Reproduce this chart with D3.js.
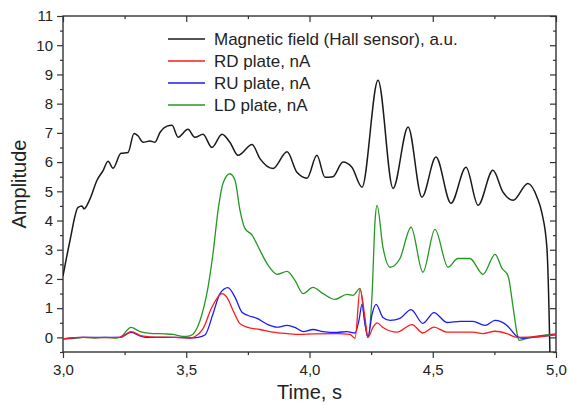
<!DOCTYPE html>
<html><head><meta charset="utf-8">
<script src="https://cdn.jsdelivr.net/npm/d3@7"></script>
<style>body{margin:0;background:#fff}svg{display:block}text{font-family:"Liberation Sans",Arial,sans-serif;fill:#222}</style>
</head><body><svg id="c" width="568" height="405"></svg>
<script>
const seriesNames = ["Magnetic field (Hall sensor), a.u.", "RD plate, nA", "RU plate, nA", "LD plate, nA"];
const seriesColors = ["#1a1a1a", "#ff1a1a", "#1a1aff", "#229922"];

const hallT = [3.000,3.028,3.061,3.077,3.085,3.110,3.138,3.162,3.183,3.203,3.235,3.264,3.288,3.304,3.325,3.353,3.373,3.394,3.422,3.442,3.467,3.507,3.535,3.568,3.604,3.645,3.677,3.710,3.767,3.799,3.852,3.909,3.949,3.990,4.030,4.063,4.095,4.136,4.172,4.213,4.278,4.339,4.400,4.456,4.513,4.574,4.635,4.684,4.744,4.785,4.826,4.886,4.923,4.943,4.963,4.972,4.976];
const hallV = [2.1,3.3,4.45,4.5,4.4,4.75,5.38,5.7,6.03,5.79,6.3,6.33,6.98,6.9,6.68,6.72,6.68,7.02,7.23,7.26,6.85,7.12,6.85,6.95,6.5,6.95,6.68,6.23,6.6,6.12,5.78,6.35,5.65,5.45,6.23,5.48,5.5,6.0,5.82,5.14,8.8,5.1,7.2,4.8,6.17,4.59,5.82,4.52,5.72,4.97,4.69,5.27,4.8,4.25,3.08,0.8,-0.8];

const rdT = [3.000,3.081,3.170,3.231,3.276,3.320,3.353,3.454,3.515,3.536,3.568,3.604,3.645,3.665,3.690,3.718,3.746,3.799,3.852,3.909,3.961,4.014,4.112,4.164,4.185,4.205,4.225,4.237,4.258,4.274,4.298,4.355,4.416,4.460,4.505,4.558,4.663,4.704,4.753,4.801,4.842,4.935,5.000];
const rdV = [-0.05,0.0,-0.01,0.0,0.2,0.05,0.02,0.0,-0.02,0.03,0.3,1.03,1.5,1.37,0.92,0.47,0.35,0.27,0.18,0.13,0.1,0.12,0.13,0.1,-0.03,1.65,0.68,0.0,0.35,0.5,0.34,0.18,0.44,0.15,0.35,0.18,0.18,0.13,0.21,0.13,0.0,0.03,0.1];

const ruT = [3.000,3.081,3.170,3.231,3.276,3.320,3.353,3.454,3.515,3.548,3.576,3.609,3.637,3.669,3.698,3.726,3.751,3.787,3.828,3.868,3.909,3.941,3.974,4.014,4.055,4.112,4.152,4.185,4.201,4.213,4.225,4.237,4.254,4.270,4.298,4.327,4.367,4.412,4.460,4.505,4.558,4.611,4.663,4.712,4.753,4.801,4.842,4.866,4.935,5.000];
const ruV = [-0.05,0.0,0.0,0.0,0.17,0.03,0.0,0.0,-0.02,0.0,0.08,0.82,1.5,1.7,1.37,0.86,0.75,0.65,0.45,0.35,0.41,0.34,0.2,0.27,0.2,0.17,0.2,0.15,0.6,1.13,0.48,0.0,0.8,1.13,0.68,0.58,0.65,0.95,0.48,0.85,0.51,0.55,0.55,0.41,0.58,0.41,0.03,-0.03,0.03,0.1];

const ldT = [3.000,3.049,3.081,3.130,3.170,3.211,3.231,3.276,3.312,3.353,3.414,3.446,3.487,3.515,3.556,3.588,3.609,3.629,3.649,3.677,3.698,3.718,3.738,3.767,3.799,3.832,3.868,3.909,3.941,3.974,4.014,4.055,4.103,4.152,4.176,4.205,4.225,4.237,4.254,4.266,4.274,4.298,4.327,4.367,4.412,4.460,4.509,4.562,4.602,4.651,4.704,4.753,4.781,4.805,4.826,4.842,4.850,4.895,5.000];
const ldV = [-0.05,-0.03,0.0,-0.02,0.0,-0.02,0.0,0.34,0.2,0.14,0.12,0.1,0.03,0.05,0.58,1.7,2.9,4.35,5.27,5.6,5.37,4.35,3.73,3.5,2.98,2.47,2.16,2.26,1.95,1.5,1.71,1.5,1.3,1.47,1.44,1.68,0.48,0.02,1.5,4.0,4.52,3.08,2.4,2.7,3.77,2.23,3.7,2.4,2.7,2.7,2.16,2.84,2.36,2.12,1.03,0.14,-0.1,0.0,0.12];

const xMajor = [3.0, 3.5, 4.0, 4.5, 5.0];
const xMinor = [3.25, 3.75, 4.25, 4.75];
const yMajor = [0,1,2,3,4,5,6,7,8,9,10,11];
const yMinor = [-0.5,0.5,1.5,2.5,3.5,4.5,5.5,6.5,7.5,8.5,9.5,10.5];

const svg = d3.select("#c");
const L = 63, R = 556, T = 16, B = 352;
const x = d3.scaleLinear().domain([3, 5]).range([L, R]);
const y = d3.scaleLinear().domain([-0.5, 11]).range([B, T]);

svg.append("defs").append("clipPath").attr("id","clip")
  .append("rect").attr("x",L).attr("y",T).attr("width",R-L).attr("height",B-T);

const fmt = d => d3.format(".1f")(d).replace(".", ",");
const axColor = "#333";
function styleAxis(g){ g.select(".domain").remove(); g.selectAll("line").attr("stroke",axColor).attr("stroke-width",1.2); }

// bottom
svg.append("g").attr("transform",`translate(0,${B})`)
  .call(d3.axisBottom(x).tickValues(xMajor).tickSize(6).tickPadding(6).tickFormat(fmt))
  .call(styleAxis).call(g=>g.selectAll("text").attr("font-size",15).attr("fill","#222").attr("font-family","Liberation Sans, Arial"));
svg.append("g").attr("transform",`translate(0,${B})`)
  .call(d3.axisBottom(x).tickValues(xMinor).tickSize(3).tickFormat("")).call(styleAxis);
// top
svg.append("g").attr("transform",`translate(0,${T})`)
  .call(d3.axisTop(x).tickValues(xMajor).tickSize(-6).tickFormat("")).call(styleAxis);
svg.append("g").attr("transform",`translate(0,${T})`)
  .call(d3.axisTop(x).tickValues(xMinor).tickSize(-3).tickFormat("")).call(styleAxis);
// left
svg.append("g").attr("transform",`translate(${L},0)`)
  .call(d3.axisLeft(y).tickValues(yMajor).tickSize(6).tickPadding(4).tickFormat(d=>d))
  .call(styleAxis).call(g=>g.selectAll("text").attr("font-size",15).attr("fill","#222").attr("font-family","Liberation Sans, Arial"));
svg.append("g").attr("transform",`translate(${L},0)`)
  .call(d3.axisLeft(y).tickValues(yMinor).tickSize(3).tickFormat("")).call(styleAxis);
// right
svg.append("g").attr("transform",`translate(${R},0)`)
  .call(d3.axisRight(y).tickValues(yMajor).tickSize(-6).tickFormat("")).call(styleAxis);
svg.append("g").attr("transform",`translate(${R},0)`)
  .call(d3.axisRight(y).tickValues(yMinor).tickSize(-3).tickFormat("")).call(styleAxis);

// frame
svg.append("rect").attr("x",L).attr("y",T).attr("width",R-L).attr("height",B-T)
  .attr("fill","none").attr("stroke",axColor).attr("stroke-width",1.4);

const line = d3.line().x(d=>x(d[0])).y(d=>y(d[1])).curve(d3.curveMonotoneX);
const zip = (a,b) => a.map((t,i)=>[t,b[i]]);
const series = [zip(hallT,hallV), zip(rdT,rdV), zip(ruT,ruV), zip(ldT,ldV)];
const drawOrder = [0,3,2,1];
const plot = svg.append("g").attr("clip-path","url(#clip)");
drawOrder.forEach(i=>{
  plot.append("path").datum(series[i]).attr("d",line).attr("fill","none")
    .attr("stroke",seriesColors[i]).attr("stroke-width", i===0?1.5:1.3).attr("stroke-linejoin","round");
});

// legend
const lg = svg.append("g");
seriesNames.forEach((n,i)=>{
  const yy = 39 + i*22;
  lg.append("line").attr("x1",168).attr("x2",205).attr("y1",yy).attr("y2",yy)
    .attr("stroke",seriesColors[i]).attr("stroke-width",1.5);
  lg.append("text").attr("x",214).attr("y",yy).attr("dy","0.35em").attr("font-size",17).text(n);
});

// axis titles
svg.append("text").attr("x",(L+R)/2).attr("y",399).attr("text-anchor","middle").attr("font-size",20).text("Time, s");
svg.append("text").attr("transform",`translate(26,${(T+B)/2}) rotate(-90)`).attr("text-anchor","middle").attr("font-size",20).text("Amplitude");
</script></body></html>
